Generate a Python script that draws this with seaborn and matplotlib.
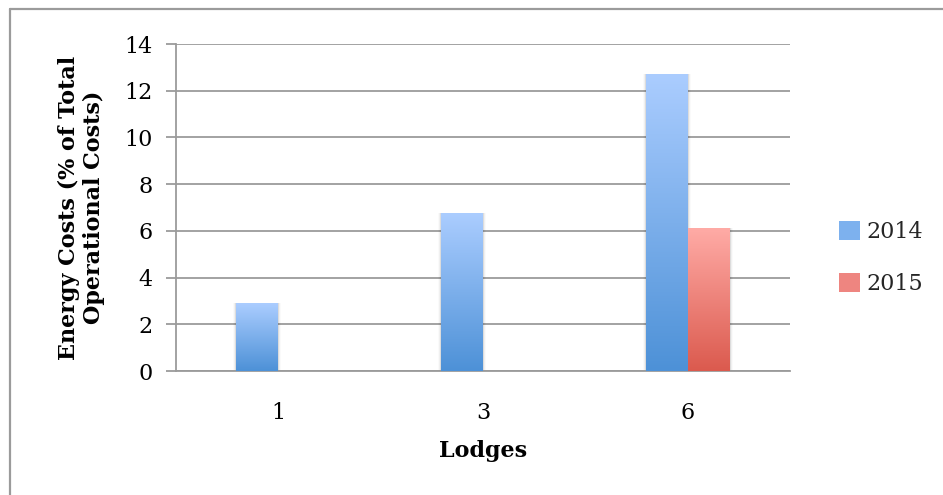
import numpy as np
import pandas as pd
import matplotlib
matplotlib.use("Agg")
import matplotlib.pyplot as plt
from matplotlib.colors import LinearSegmentedColormap
from matplotlib.patches import Patch
from matplotlib.lines import Line2D
import seaborn as sns

# Data
lodges = ["1", "3", "6"]
years = ["2014", "2015"]
costs_2014 = [2.9, 6.76, 12.71]
costs_2015 = [np.nan, np.nan, 6.11]
y_ticks = [0, 2, 4, 6, 8, 10, 12, 14]

df = pd.DataFrame({
    "Lodges": lodges * 2,
    "Year": [years[0]] * 3 + [years[1]] * 3,
    "Cost": costs_2014 + costs_2015,
})

sns.set_theme(style="white")
plt.rcParams["font.family"] = ["DejaVu Serif"]

# gradient colours per series (top, bottom)
grad = {
    "2014": ("#abcdff", "#4d91d7"),
    "2015": ("#ffaba6", "#db5a4e"),
}
mid = {"2014": "#7db1ee", "2015": "#ee8580"}

fig = plt.figure(figsize=(9.43, 4.95), dpi=100)
ax = fig.add_axes([176 / 943, 1 - 371 / 495, (790 - 176) / 943, (371 - 44) / 495])

sns.barplot(data=df, x="Lodges", y="Cost", hue="Year", order=lodges,
            hue_order=years, palette=mid, width=0.41, gap=0, dodge=True,
            errorbar=None, legend=False, ax=ax, zorder=3, linewidth=0)

ax.set_ylim(0, 14)
ax.set_yticks(y_ticks)
ax.set_yticklabels([str(t) for t in y_ticks])
ax.set_xlim(-0.5, 2.5)

# replace flat fills with vertical gradients clipped to each bar
for container, yr in zip(ax.containers, years):
    cmap = LinearSegmentedColormap.from_list(yr, [grad[yr][1], grad[yr][0]])
    for bar in container:
        h = bar.get_height()
        if not np.isfinite(h) or h <= 0:
            continue
        x0 = bar.get_x()
        w = bar.get_width()
        # soft drop shadow along the sides
        for k, a in enumerate([0.08, 0.04, 0.02]):
            sh = plt.Rectangle((x0 - 0.005 * (k + 1), 0), w + 0.01 * (k + 1), h,
                               facecolor="#000000", alpha=a, lw=0, zorder=2.5)
            ax.add_patch(sh)
        bar.set_facecolor("none")
        img = np.linspace(0, 1, 256).reshape(-1, 1)
        im = ax.imshow(img, cmap=cmap, aspect="auto", origin="lower",
                       extent=(x0, x0 + w, 0, h), zorder=3.5,
                       interpolation="bicubic")
        im.set_clip_path(bar)

ax.set_xlim(-0.5, 2.5)
ax.set_ylim(0, 14)

# grid and axes styling
ax.yaxis.grid(True, color="#9b9b9b", linewidth=1.3, zorder=0)
ax.set_axisbelow(True)
for s in ["top", "right"]:
    ax.spines[s].set_visible(False)
for s in ["left", "bottom"]:
    ax.spines[s].set_color("#9b9b9b")
    ax.spines[s].set_linewidth(1.3)
ax.tick_params(axis="y", which="major", direction="out", length=7, width=1.3,
               color="#9b9b9b", pad=10, labelsize=16, labelcolor="#000000", left=True)
ax.tick_params(axis="x", length=0, pad=22, labelsize=16, labelcolor="#000000")

ax.set_xlabel("Lodges", fontsize=16, fontweight="bold", labelpad=12, color="#000000")
ax.set_ylabel("Energy Costs (% of Total\nOperational Costs)", fontsize=16,
              fontweight="bold", labelpad=14, color="#000000", linespacing=1.15)

handles = [Patch(facecolor=mid[y], edgecolor="none") for y in years]
leg = fig.legend(handles, years, loc="center left", bbox_to_anchor=(839 / 943, 1 - 257 / 495),
                 frameon=False, fontsize=16, handlelength=0.95, handleheight=0.95,
                 handletextpad=0.3, labelspacing=1.35, borderpad=0)
leg.set_bbox_to_anchor((828 / 943, 1 - 258 / 495), transform=fig.transFigure)

# outer chart frame
fig.add_artist(Line2D([10 / 943, 1.0], [1 - 9 / 495, 1 - 9 / 495], color="#9b9b9b",
                      linewidth=1.6, transform=fig.transFigure))
fig.add_artist(Line2D([10 / 943, 10 / 943], [0.0, 1 - 9 / 495], color="#9b9b9b",
                      linewidth=1.6, transform=fig.transFigure))

fig.savefig("out.png", dpi=100, facecolor="white")
